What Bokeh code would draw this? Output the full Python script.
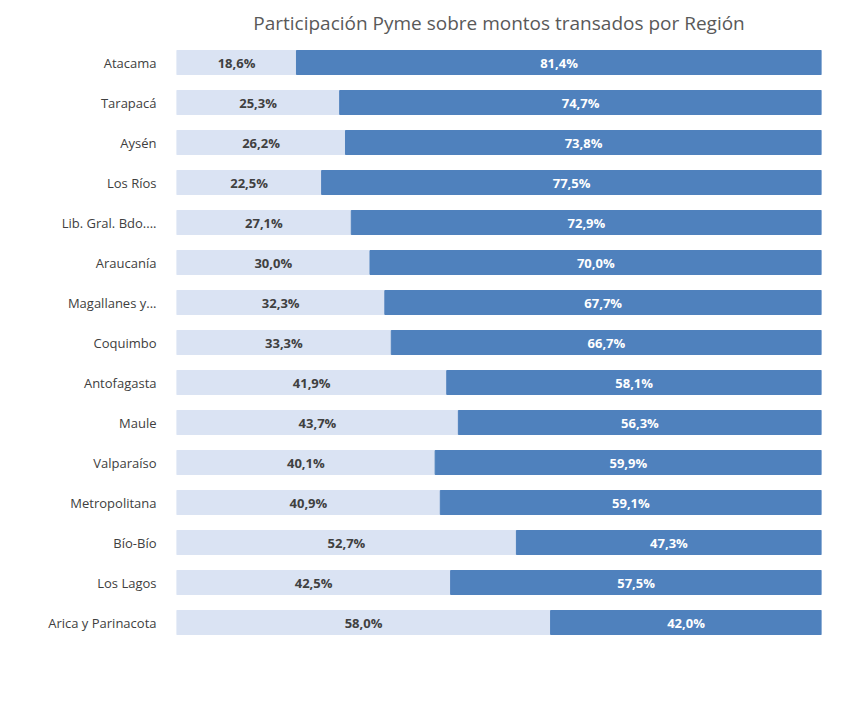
from bokeh.plotting import figure
from bokeh.models import ColumnDataSource, Legend, LegendItem, Title
from bokeh.core.properties import value
from bokeh.embed import file_html
from bokeh.resources import INLINE

regions = ["Atacama","Tarapacá","Aysén","Los Ríos","Lib. Gral. Bdo....","Araucanía","Magallanes y...",
           "Coquimbo","Antofagasta","Maule","Valparaíso","Metropolitana","Bío-Bío","Los Lagos","Arica y Parinacota"]
grande = [18.6,25.3,26.2,22.5,27.1,30.0,32.3,33.3,41.9,43.7,40.1,40.9,52.7,42.5,58.0]
pyme = [81.4,74.7,73.8,77.5,72.9,70.0,67.7,66.7,58.1,56.3,59.9,59.1,47.3,57.5,42.0]

FONT = "Open Sans"
src = ColumnDataSource(dict(
    r=regions, g=grande, p=pyme,
    gmid=[v/2 for v in grande], pend=[a+b for a, b in zip(grande, pyme)],
    pmid=[a+b/2 for a, b in zip(grande, pyme)],
    gl=[f"{v:.1f}%".replace(".", ",") for v in grande],
    pl=[f"{v:.1f}%".replace(".", ",") for v in pyme]))

p = figure(frame_width=645, frame_height=600, y_range=list(reversed(regions)), x_range=(0, 100),
           output_backend="svg", toolbar_location=None,
           min_border_left=176, min_border_right=16, min_border_top=10, min_border_bottom=10)
p.outline_line_color = None
p.add_layout(Title(text="Participación Pyme sobre montos transados por Región", align="center",
                   text_font=FONT, text_font_size="19px", text_font_style="normal",
                   text_color="#595959", offset=-40, standoff=14), "above")
rg = p.hbar(y="r", left=0, right="g", height=0.6, source=src, color="#DAE3F3")
rp = p.hbar(y="r", left="g", right="pend", height=0.6, source=src, color="#4F81BD")
p.text(x="gmid", y="r", text="gl", source=src, text_align="center", text_baseline="middle",
       text_font=value(FONT), text_font_size="13px", text_font_style="bold", text_color="#404040")
p.text(x="pmid", y="r", text="pl", source=src, text_align="center", text_baseline="middle",
       text_font=value(FONT), text_font_size="13px", text_font_style="bold", text_color="white")
p.xaxis.visible = False
p.xgrid.visible = False
p.ygrid.visible = False
p.yaxis.axis_line_color = None
p.yaxis.major_tick_line_color = None
p.yaxis.minor_tick_line_color = None
p.yaxis.major_label_text_font = FONT
p.yaxis.major_label_text_font_size = "13px"
p.yaxis.major_label_text_color = "#404040"
p.yaxis.major_label_standoff = 14
leg = Legend(items=[LegendItem(label="Grande", renderers=[rg]), LegendItem(label="Pyme", renderers=[rp])],
             orientation="horizontal", location="center", border_line_color=None,
             label_text_font=FONT, label_text_font_size="16px", label_text_color="#595959",
             glyph_width=12, glyph_height=12, spacing=30, margin=4)
p.add_layout(leg, "below")
p.y_range.range_padding = 0
open("out.html", "w").write(file_html(p, INLINE))
